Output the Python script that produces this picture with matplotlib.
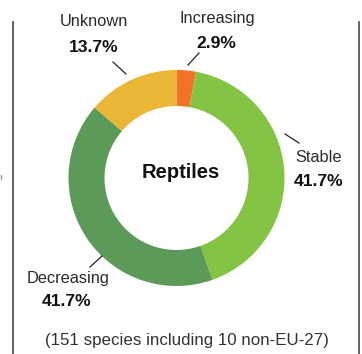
import matplotlib
matplotlib.use("Agg")
import matplotlib.pyplot as plt

plt.rcParams['font.family'] = ['Liberation Sans', 'DejaVu Sans']

categories = ['Increasing', 'Stable', 'Decreasing', 'Unknown']
shares = [2.9, 41.7, 41.7, 13.7]
colors = ['#F37226', '#83C443', '#5B9A57', '#EBB636']
title = 'Reptiles'
note = '(151 species including 10 non-EU-27)'

W, H = 362, 354
fig = plt.figure(figsize=(W / 100, H / 100), dpi=100)
ax = fig.add_axes([0, 0, 1, 1])

def Y(y):
    # pixel rows counted from the top
    return H - y

cx, cy, r = 176.5, 178, 108
ax.pie(shares, colors=colors, startangle=90, counterclock=False,
       center=(cx, Y(cy)), radius=r, frame=True,
       wedgeprops=dict(width=36, linewidth=0))
ax.set_xlim(0, W)
ax.set_ylim(0, H)
ax.set_aspect('equal')
ax.axis('off')

ax.text(cx + 4, Y(172), title, ha='center', va='center', fontsize=14.5, fontweight='bold', color='#111111')

# label name, value text, name position, value position, leader line
labels = [
    (3, (94, 22), (94, 47), ((113, 62), (126, 74))),
    (0, (217, 18), (216, 43), ((199, 53), (188, 65))),
    (1, (319, 157), (319, 182), ((285, 134), (299, 143))),
    (2, (68, 279), (67, 302), ((90, 267), (102, 256))),
]
for i, (nx, ny), (vx, vy), ((x1, y1), (x2, y2)) in labels:
    ax.text(nx, Y(ny), categories[i], ha='center', va='center', fontsize=11.8, color='#2a2a2a')
    ax.text(vx, Y(vy), f'{shares[i]}%', ha='center', va='center', fontsize=12.6,
            fontweight='bold', color='#111111')
    ax.plot([x1, x2], [Y(y1), Y(y2)], color='#222222', lw=0.9)

ax.text(187, Y(340), note, ha='center', va='center', fontsize=12.2, color='#333333')

# frame sides
ax.plot([13, 13], [Y(22), Y(H)], color='#555555', lw=1.3)
ax.plot([359, 359], [Y(22), Y(H)], color='#555555', lw=1.3)
ax.plot([0.5, 0.5], [Y(175), Y(179)], color='#999999', lw=1)

fig.savefig('out.png', dpi=100)
